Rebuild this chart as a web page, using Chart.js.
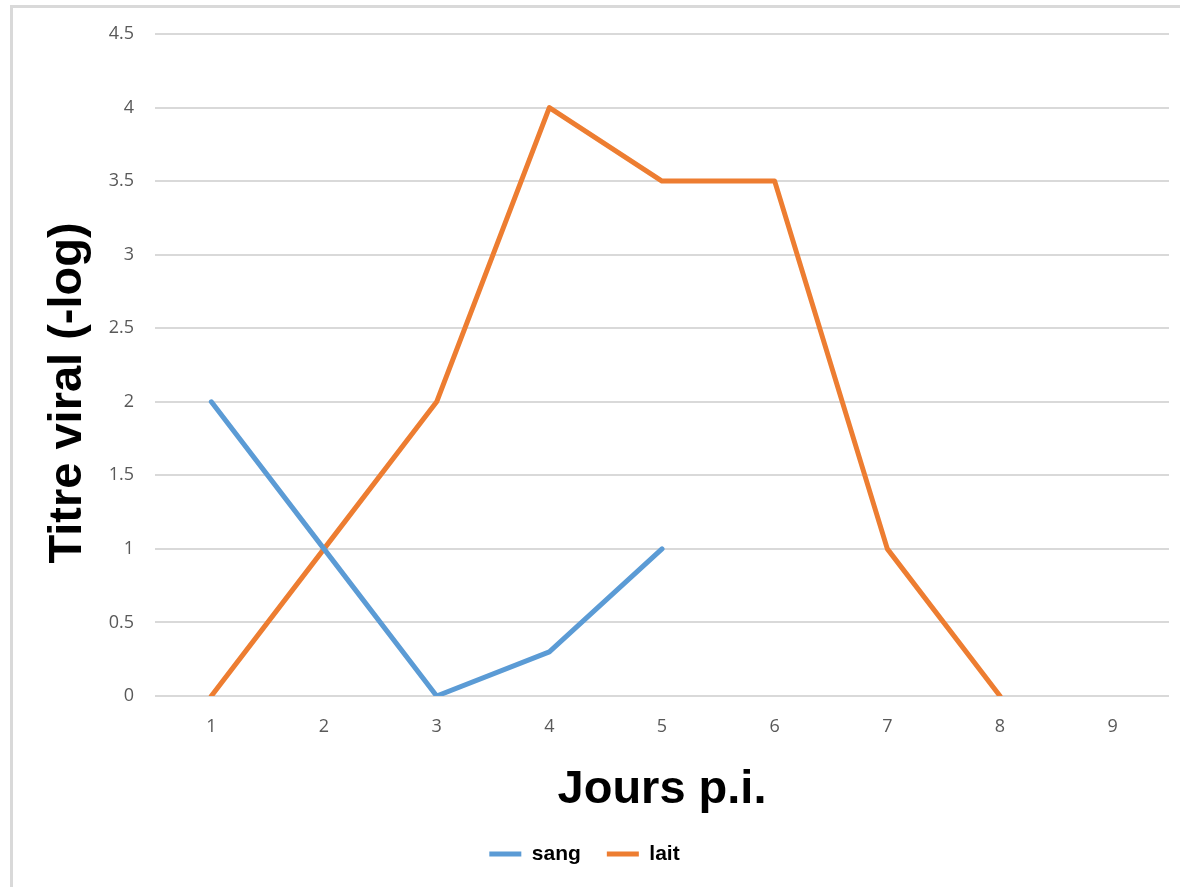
<!DOCTYPE html>
<html>
<head>
<meta charset="utf-8">
<script src="https://cdn.jsdelivr.net/npm/chart.js@4"></script>
<style>
  html, body { margin: 0; padding: 0; background: #fff; overflow: hidden; }
  #wrap { position: relative; width: 1180px; height: 887px; }
  #frame { position: absolute; left: 10px; top: 5px; width: 1200px; height: 900px;
           border: 3px solid #d9d9d9; box-sizing: border-box; }
  #c { position: absolute; left: 0; top: 0; }
</style>
</head>
<body>
<div id="wrap">
  <div id="frame"></div>
  <canvas id="c" width="1180" height="887"></canvas>
</div>
<script>
// Days post-infection and viral titres (-log) measured in blood and milk
const days = ['1', '2', '3', '4', '5', '6', '7', '8', '9'];
const sang = [2, 1, 0, 0.3, 1, null, null, null, null];
const lait = [0, 1, 2, 4, 3.5, 3.5, 1, 0, null];
const yTitle = 'Titre viral (-log)';
const xTitle = 'Jours p.i.';

const tickFont = { family: '"Open Sans", sans-serif', size: 18 };
const boldFamily = '"Liberation Sans", Arial, sans-serif';

// Rotated y-axis title, drawn a little below the vertical centre of the plot
const yTitlePlugin = {
  id: 'yTitle',
  afterDraw(chart) {
    const { ctx, chartArea } = chart;
    ctx.save();
    ctx.translate(68, (chartArea.top + chartArea.bottom) / 2 + 28);
    ctx.rotate(-Math.PI / 2);
    ctx.font = 'bold 47px ' + boldFamily;
    ctx.fillStyle = '#000';
    ctx.textAlign = 'center';
    ctx.textBaseline = 'middle';
    ctx.fillText(yTitle, 0, 0);
    ctx.restore();
  }
};

new Chart(document.getElementById('c'), {
  type: 'line',
  data: {
    labels: days,
    datasets: [
      { label: 'sang', data: sang, borderColor: '#5B9BD5', backgroundColor: '#5B9BD5',
        borderWidth: 5, pointRadius: 0, borderCapStyle: 'round', borderJoinStyle: 'round',
        clip: { left: 6, right: 6, top: 6, bottom: 0 } },
      { label: 'lait', data: lait, borderColor: '#ED7D31', backgroundColor: '#ED7D31',
        borderWidth: 5, pointRadius: 0, borderCapStyle: 'round', borderJoinStyle: 'round',
        clip: { left: 6, right: 6, top: 6, bottom: 0 } }
    ]
  },
  options: {
    responsive: false,
    animation: false,
    layout: { padding: { top: 34, right: 11, bottom: 12.5, left: 0 } },
    plugins: {
      tooltip: { enabled: false },
      legend: {
        position: 'bottom',
        labels: {
          usePointStyle: true,
          pointStyle: 'line',
          pointStyleWidth: 32,
          padding: 26,
          color: '#000',
          font: { family: boldFamily, size: 21, weight: 'bold' },
          generateLabels(chart) {
            const items = Chart.defaults.plugins.legend.labels.generateLabels(chart);
            items.forEach(it => { it.pointStyle = 'line'; it.lineWidth = 5; });
            return items;
          }
        }
      }
    },
    scales: {
      x: {
        offset: true,
        grid: { display: false },
        border: { display: false },
        ticks: { color: '#595959', font: tickFont, padding: 12, maxRotation: 0 },
        title: { display: true, text: xTitle, color: '#000',
                 font: { family: boldFamily, size: 47, weight: 'bold', lineHeight: 1 },
                 padding: { top: 0, bottom: 4 } },
        afterFit(scale) { scale.height = 121.5; }
      },
      y: {
        min: 0, max: 4.5,
        grid: { color: '#d9d9d9', lineWidth: 2, drawTicks: false },
        border: { display: false },
        ticks: { stepSize: 0.5, color: '#595959', font: tickFont, padding: 21,
                 callback: v => String(v) },
        afterFit(scale) { scale.width = 155; }
      }
    }
  },
  plugins: [yTitlePlugin]
});
</script>
</body>
</html>
